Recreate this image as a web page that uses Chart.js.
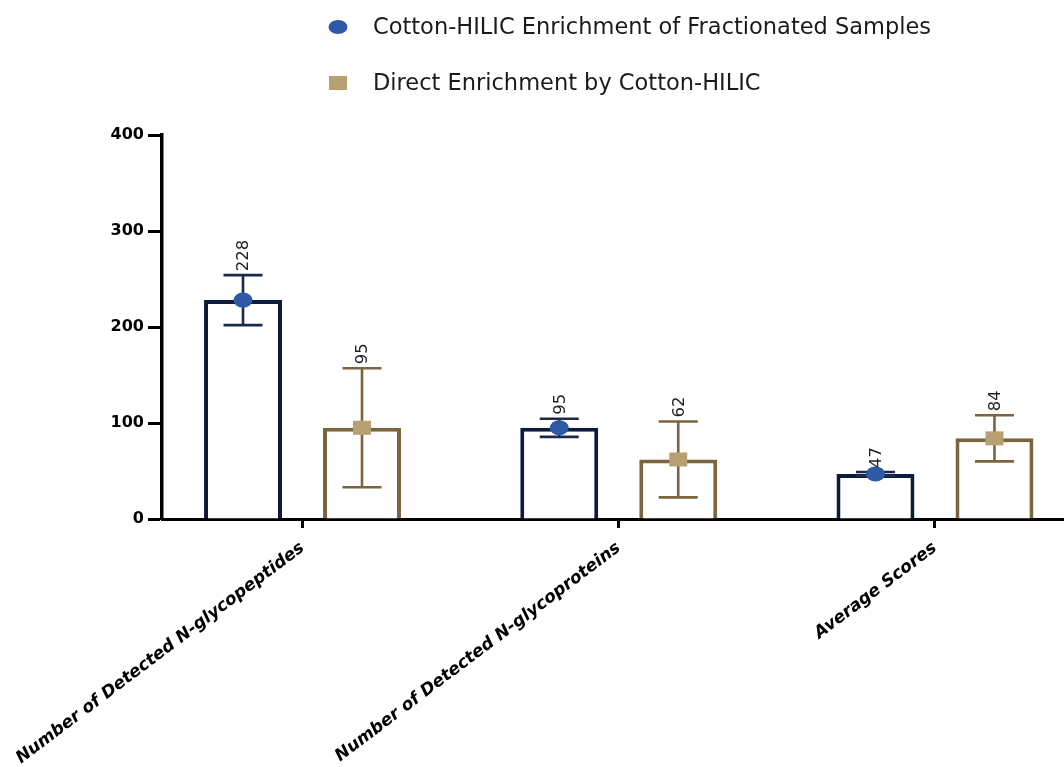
<!DOCTYPE html>
<html>
<head>
<meta charset="utf-8">
<script src="https://cdn.jsdelivr.net/npm/chart.js@4/dist/chart.umd.min.js"></script>
<style>
  html, body { margin: 0; padding: 0; background: #ffffff; }
  canvas { display: block; }
</style>
</head>
<body>
<canvas id="chart" width="1064" height="767"></canvas>
<script>
// Categories, series and values
const categories = [
  'Number of Detected N-glycopeptides',
  'Number of Detected N-glycoproteins',
  'Average Scores'
];
const seriesNames = [
  'Cotton-HILIC Enrichment of Fractionated Samples',
  'Direct Enrichment by Cotton-HILIC'
];
const fractionatedMeans = [228, 95, 47];
const fractionatedErrors = [26, 9.5, 2];
const directMeans = [95, 62, 84];
const directErrors = [62, 39.5, 24];
const yTicks = [0, 100, 200, 300, 400];

const FONT = "'DejaVu Sans', 'Liberation Sans', sans-serif";

const seriesStyles = [
  { border: '#0d1b3b', err: '#1b2a4c', marker: '#2d59a7', shape: 'ellipse' },
  { border: '#7b6540', err: '#7b6540', marker: '#b9a073', shape: 'square' }
];

function toPoints(values) {
  return values.map((v, i) => ({ x: i, y: v }));
}

function drawMarker(ctx, shape, color, x, y) {
  ctx.save();
  ctx.fillStyle = color;
  ctx.beginPath();
  if (shape === 'ellipse') {
    ctx.ellipse(x, y, 9.5, 7.5, 0, 0, Math.PI * 2);
  } else {
    ctx.rect(x - 9, y - 7, 18, 14);
  }
  ctx.fill();
  ctx.restore();
}

// Error bars, mean markers and value labels on top of each bar
const errorBarPlugin = {
  id: 'errorBars',
  afterDatasetsDraw(chart) {
    const ctx = chart.ctx;
    const yScale = chart.scales.y;
    chart.data.datasets.forEach((ds, i) => {
      const meta = chart.getDatasetMeta(i);
      const st = seriesStyles[i];
      meta.data.forEach((bar, j) => {
        const v = ds.data[j].y;
        const e = ds.errors[j];
        const x = bar.x;
        const yHi = yScale.getPixelForValue(v + e);
        const yLo = yScale.getPixelForValue(v - e);
        const yMid = yScale.getPixelForValue(v);
        const capHalf = 19.5;

        ctx.save();
        ctx.strokeStyle = st.err;
        ctx.lineWidth = 2.6;
        ctx.beginPath();
        ctx.moveTo(x, yHi); ctx.lineTo(x, yLo);
        ctx.moveTo(x - capHalf, yHi); ctx.lineTo(x + capHalf, yHi);
        ctx.moveTo(x - capHalf, yLo); ctx.lineTo(x + capHalf, yLo);
        ctx.stroke();
        ctx.restore();

        drawMarker(ctx, st.shape, st.marker, x, yMid);

        ctx.save();
        ctx.translate(x, yHi - 4);
        ctx.rotate(-Math.PI / 2);
        ctx.font = '16.5px ' + FONT;
        ctx.fillStyle = '#222222';
        ctx.textAlign = 'left';
        ctx.textBaseline = 'middle';
        ctx.fillText(String(v), 0, 1);
        ctx.restore();
      });
    });
  }
};

// Vertical legend above the plot
const stackedLegendPlugin = {
  id: 'stackedLegend',
  afterDraw(chart) {
    const ctx = chart.ctx;
    const rows = [27, 83];
    chart.data.datasets.forEach((ds, i) => {
      const st = seriesStyles[i];
      const y = rows[i];
      ctx.save();
      ctx.fillStyle = st.marker;
      ctx.beginPath();
      if (st.shape === 'ellipse') {
        ctx.ellipse(338, y, 9.5, 7, 0, 0, Math.PI * 2);
      } else {
        ctx.rect(329, y - 7, 18, 14);
      }
      ctx.fill();
      ctx.font = '22.5px ' + FONT;
      ctx.fillStyle = '#1a1a1a';
      ctx.textAlign = 'left';
      ctx.textBaseline = 'middle';
      ctx.fillText(ds.label, 373, y + 1);
      ctx.restore();
    });
  }
};

const chart = new Chart(document.getElementById('chart'), {
  type: 'bar',
  data: {
    datasets: [
      {
        label: seriesNames[0],
        data: toPoints(fractionatedMeans),
        errors: fractionatedErrors,
        backgroundColor: '#ffffff',
        borderColor: seriesStyles[0].border,
        borderWidth: 4,
        borderSkipped: 'start'
      },
      {
        label: seriesNames[1],
        data: toPoints(directMeans),
        errors: directErrors,
        backgroundColor: '#ffffff',
        borderColor: seriesStyles[1].border,
        borderWidth: 4,
        borderSkipped: 'start'
      }
    ]
  },
  options: {
    responsive: false,
    devicePixelRatio: 1,
    animation: false,
    categoryPercentage: 0.7526,
    barPercentage: 0.655,
    layout: { padding: { top: 135, left: 0, right: 0, bottom: 0 } },
    plugins: {
      legend: { display: false },
      tooltip: { enabled: false }
    },
    scales: {
      x: {
        type: 'linear',
        min: -0.4443,
        max: 2.408,
        offset: false,
        z: 1,
        ticks: {
          stepSize: 1,
          includeBounds: false,
          autoSkip: false,
          maxRotation: 37,
          minRotation: 37,
          padding: 10,
          color: '#000000',
          font: { family: FONT, size: 17, weight: 'bold', style: 'italic' },
          callback: (v) => (Number.isInteger(v) && categories[v] !== undefined) ? categories[v] : ''
        },
        grid: {
          offset: false,
          drawOnChartArea: false,
          drawTicks: true,
          tickLength: 9,
          tickWidth: 3,
          tickColor: '#000000'
        },
        border: { display: true, color: '#000000', width: 3 },
        afterFit(scale) {
          scale.height = 248;
          scale.paddingLeft = 0;
          scale.paddingRight = 0;
        }
      },
      y: {
        min: yTicks[0],
        max: yTicks[yTicks.length - 1],
        z: 1,
        ticks: {
          stepSize: yTicks[1] - yTicks[0],
          padding: 4,
          color: '#000000',
          font: { family: FONT, size: 16, weight: 'bold' }
        },
        grid: {
          drawOnChartArea: false,
          drawTicks: true,
          tickLength: 14,
          tickWidth: 3,
          tickColor: '#000000'
        },
        border: { display: true, color: '#000000', width: 3.5 },
        afterFit(scale) {
          scale.width = 162;
        }
      }
    }
  },
  plugins: [errorBarPlugin, stackedLegendPlugin]
});
</script>
</body>
</html>
